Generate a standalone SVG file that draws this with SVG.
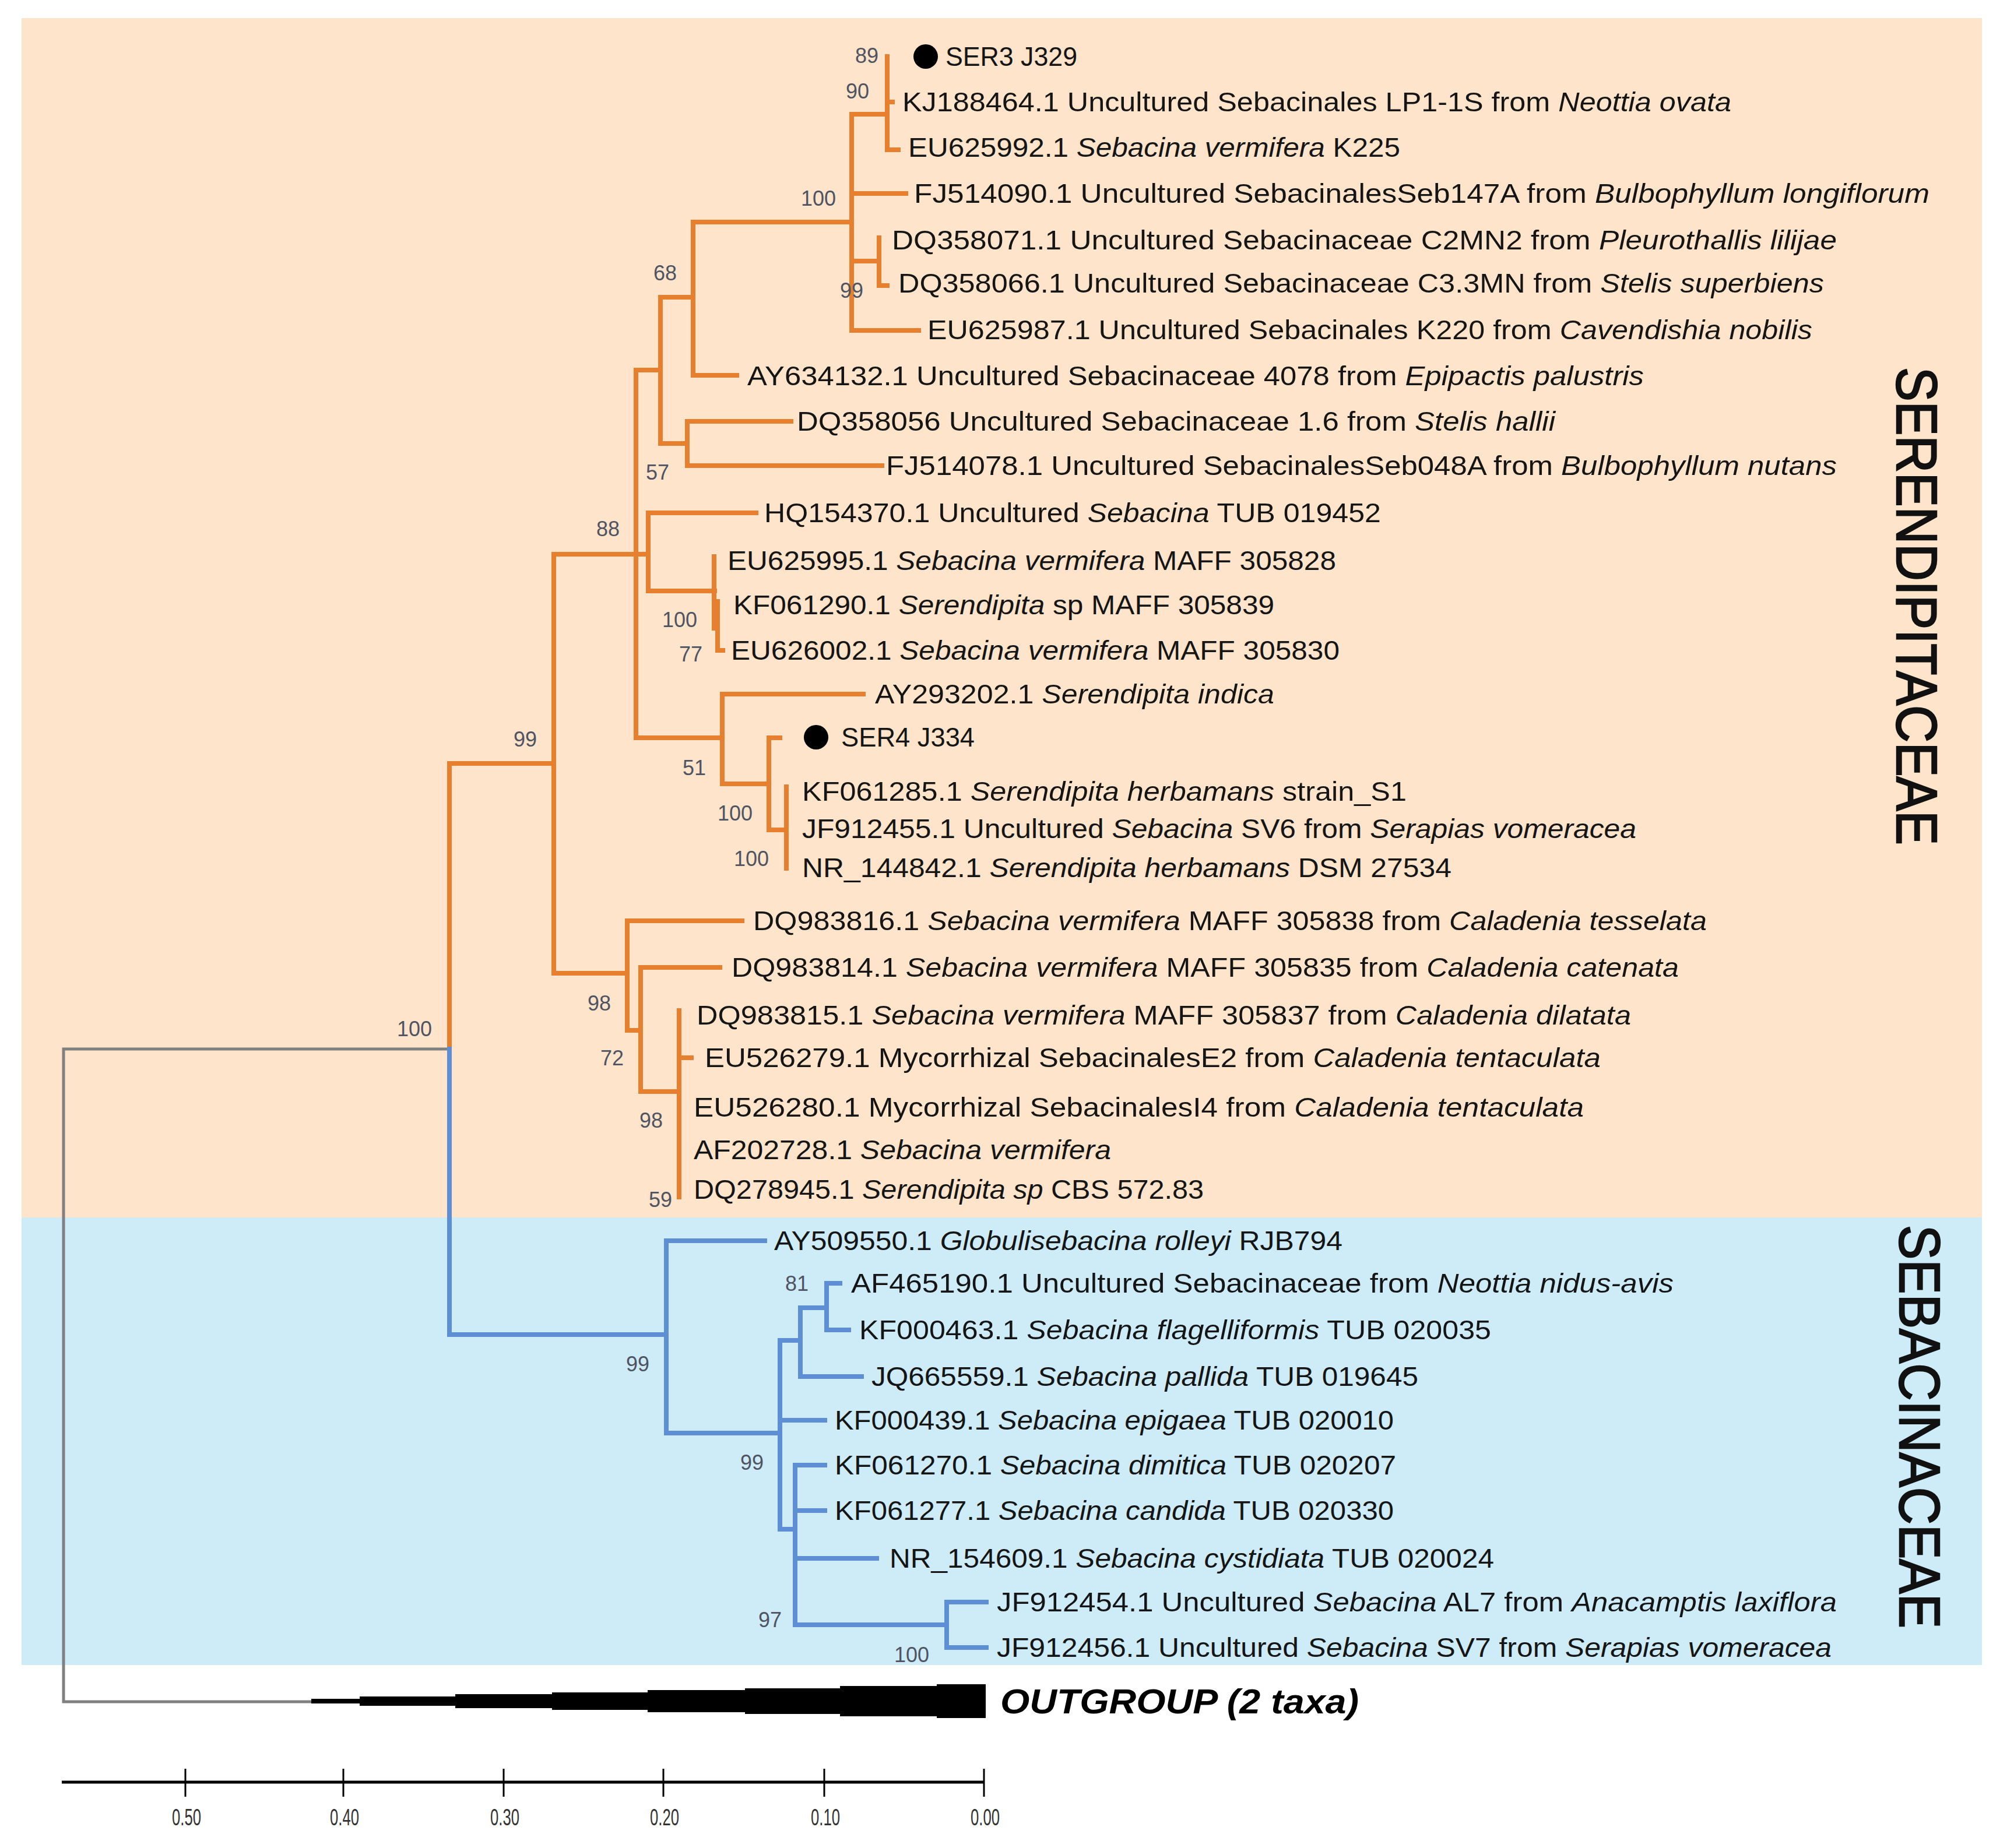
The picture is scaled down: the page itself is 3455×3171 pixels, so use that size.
<svg xmlns="http://www.w3.org/2000/svg" width="3455" height="3171" viewBox="0 0 3455 3171">
<style>
.lab{font-family:"Liberation Sans",Arial,sans-serif;font-size:46px;fill:#151515}
.bs{font-family:"Liberation Sans",Arial,sans-serif;font-size:36px;fill:#505462;text-anchor:middle}
.o{stroke:#E6802F;stroke-width:8;fill:none;stroke-linecap:square}
.b{stroke:#5E8FD5;stroke-width:8;fill:none;stroke-linecap:square}
.g{stroke:#808080;stroke-width:5;fill:none}
.fam{font-family:"Liberation Sans",Arial,sans-serif;font-size:98px;fill:#111;stroke:#111;stroke-width:2.5}
.tick{font-family:"Liberation Sans",Arial,sans-serif;font-size:40px;fill:#333;text-anchor:middle}
</style>
<rect width="3455" height="3171" fill="#ffffff"/>
<g id="backgrounds">
<rect x="37" y="31" width="3363" height="2058" fill="#FEE4CA"/>
<rect x="37" y="2089" width="3363" height="768" fill="#CDECF8"/>
</g>
<g id="connectors">
<path class="g" d="M771 1800 H109 V2920 H534"/>
<path class="o" d="M771 1800 V1310 H950 M950 951 V1670 M950 951 H1112 M950 1670 H1076
M1091 635 V1266 M1091 635 H1133 M1133 510 V761 M1133 510 H1189 M1133 761 H1179
M1189 381 V644 M1189 381 H1461 M1189 644 H1264
M1461 196 V567 M1461 196 H1522 M1461 332 H1554 M1461 448 H1508 M1461 567 H1576
M1522 97 V257 M1522 175 H1531 M1522 257 H1541
M1508 408 V490 H1522
M1179 723 V799 M1179 723 H1357 M1179 799 H1513
M1112 880 V1014 M1112 880 H1297 M1112 1014 H1226
M1225 955 V1078 M1231 1032 V1116 H1240
M1091 1266 H1239 M1239 1191 V1345 M1239 1191 H1481 M1239 1345 H1319
M1319 1266 V1424 M1319 1266 H1338 M1319 1424 H1349 M1349 1350 V1490
M1076 1580 V1768 M1076 1580 H1273 M1076 1768 H1099
M1099 1660 V1873 M1099 1660 H1235 M1099 1873 H1165
M1165 1734 V2054 M1165 1815 H1186"/>
<path class="b" d="M771 1800 V2290 H1143 M1143 2129 V2459 M1143 2129 H1312 M1143 2459 H1338
M1338 2300 V2624 M1338 2300 H1373 M1338 2437 H1415 M1338 2624 H1364
M1373 2244 V2362 M1373 2244 H1418 M1373 2362 H1478
M1418 2202 V2282 M1418 2202 H1441 M1418 2282 H1456
M1364 2514 V2788 M1364 2514 H1415 M1364 2592 H1415 M1364 2674 H1504 M1364 2788 H1624
M1624 2749 V2827 M1624 2749 H1692 M1624 2827 H1692"/>
</g>
<g id="bootstrap">
<text class="bs" x="1487" y="108">89</text>
<text class="bs" x="1471" y="169">90</text>
<text class="bs" x="1404" y="353">100</text>
<text class="bs" x="1461" y="511">99</text>
<text class="bs" x="1141" y="481">68</text>
<text class="bs" x="1128" y="823">57</text>
<text class="bs" x="1043" y="920">88</text>
<text class="bs" x="1166" y="1076">100</text>
<text class="bs" x="1185" y="1135">77</text>
<text class="bs" x="901" y="1281">99</text>
<text class="bs" x="1191" y="1330">51</text>
<text class="bs" x="1261" y="1408">100</text>
<text class="bs" x="1289" y="1486">100</text>
<text class="bs" x="711" y="1778">100</text>
<text class="bs" x="1028" y="1734">98</text>
<text class="bs" x="1050" y="1828">72</text>
<text class="bs" x="1117" y="1935">98</text>
<text class="bs" x="1133" y="2071">59</text>
<text class="bs" x="1094" y="2353">99</text>
<text class="bs" x="1367" y="2215">81</text>
<text class="bs" x="1290" y="2522">99</text>
<text class="bs" x="1321" y="2792">97</text>
<text class="bs" x="1564" y="2852">100</text>
</g>
<g id="leaf-SER3"><circle cx="1588" cy="97" r="21" fill="#000"/><text class="lab" x="1622" y="113" textLength="226" lengthAdjust="spacingAndGlyphs">SER3 J329</text></g>
<g id="leaf-KJ188464"><text class="lab" x="1548" y="191" textLength="1422" lengthAdjust="spacingAndGlyphs">KJ188464.1 Uncultured Sebacinales LP1-1S from <tspan font-style="italic">Neottia ovata</tspan></text></g>
<g id="leaf-EU625992"><text class="lab" x="1558" y="269" textLength="844" lengthAdjust="spacingAndGlyphs">EU625992.1 <tspan font-style="italic">Sebacina vermifera</tspan> K225</text></g>
<g id="leaf-FJ514090"><text class="lab" x="1568" y="348" textLength="1742" lengthAdjust="spacingAndGlyphs">FJ514090.1 Uncultured SebacinalesSeb147A from <tspan font-style="italic">Bulbophyllum longiflorum</tspan></text></g>
<g id="leaf-DQ358071"><text class="lab" x="1530" y="428" textLength="1621" lengthAdjust="spacingAndGlyphs">DQ358071.1 Uncultured Sebacinaceae C2MN2 from <tspan font-style="italic">Pleurothallis lilijae</tspan></text></g>
<g id="leaf-DQ358066"><text class="lab" x="1541" y="502" textLength="1588" lengthAdjust="spacingAndGlyphs">DQ358066.1 Uncultured Sebacinaceae C3.3MN from <tspan font-style="italic">Stelis superbiens</tspan></text></g>
<g id="leaf-EU625987"><text class="lab" x="1591" y="582" textLength="1518" lengthAdjust="spacingAndGlyphs">EU625987.1 Uncultured Sebacinales K220 from <tspan font-style="italic">Cavendishia nobilis</tspan></text></g>
<g id="leaf-AY634132"><text class="lab" x="1282" y="661" textLength="1538" lengthAdjust="spacingAndGlyphs">AY634132.1 Uncultured Sebacinaceae 4078 from <tspan font-style="italic">Epipactis palustris</tspan></text></g>
<g id="leaf-DQ358056"><text class="lab" x="1367" y="739" textLength="1301" lengthAdjust="spacingAndGlyphs">DQ358056 Uncultured Sebacinaceae 1.6 from <tspan font-style="italic">Stelis hallii</tspan></text></g>
<g id="leaf-FJ514078"><text class="lab" x="1520" y="815" textLength="1631" lengthAdjust="spacingAndGlyphs">FJ514078.1 Uncultured SebacinalesSeb048A from <tspan font-style="italic">Bulbophyllum nutans</tspan></text></g>
<g id="leaf-HQ154370"><text class="lab" x="1311" y="896" textLength="1058" lengthAdjust="spacingAndGlyphs">HQ154370.1 Uncultured <tspan font-style="italic">Sebacina</tspan> TUB 019452</text></g>
<g id="leaf-EU625995"><text class="lab" x="1248" y="978" textLength="1044" lengthAdjust="spacingAndGlyphs">EU625995.1 <tspan font-style="italic">Sebacina vermifera</tspan> MAFF 305828</text></g>
<g id="leaf-KF061290"><text class="lab" x="1258" y="1054" textLength="928" lengthAdjust="spacingAndGlyphs">KF061290.1 <tspan font-style="italic">Serendipita</tspan> sp MAFF 305839</text></g>
<g id="leaf-EU626002"><text class="lab" x="1254" y="1132" textLength="1044" lengthAdjust="spacingAndGlyphs">EU626002.1 <tspan font-style="italic">Sebacina vermifera</tspan> MAFF 305830</text></g>
<g id="leaf-AY293202"><text class="lab" x="1501" y="1207" textLength="685" lengthAdjust="spacingAndGlyphs">AY293202.1 <tspan font-style="italic">Serendipita indica</tspan></text></g>
<g id="leaf-SER4"><circle cx="1400" cy="1265" r="21" fill="#000"/><text class="lab" x="1443" y="1281" textLength="229" lengthAdjust="spacingAndGlyphs">SER4 J334</text></g>
<g id="leaf-KF061285"><text class="lab" x="1376" y="1374" textLength="1037" lengthAdjust="spacingAndGlyphs">KF061285.1 <tspan font-style="italic">Serendipita herbamans</tspan> strain_S1</text></g>
<g id="leaf-JF912455"><text class="lab" x="1376" y="1438" textLength="1431" lengthAdjust="spacingAndGlyphs">JF912455.1 Uncultured <tspan font-style="italic">Sebacina</tspan> SV6 from <tspan font-style="italic">Serapias vomeracea</tspan></text></g>
<g id="leaf-NR144842"><text class="lab" x="1376" y="1505" textLength="1114" lengthAdjust="spacingAndGlyphs">NR_144842.1 <tspan font-style="italic">Serendipita herbamans</tspan> DSM 27534</text></g>
<g id="leaf-DQ983816"><text class="lab" x="1292" y="1596" textLength="1636" lengthAdjust="spacingAndGlyphs">DQ983816.1 <tspan font-style="italic">Sebacina vermifera</tspan> MAFF 305838 from <tspan font-style="italic">Caladenia tesselata</tspan></text></g>
<g id="leaf-DQ983814"><text class="lab" x="1255" y="1676" textLength="1625" lengthAdjust="spacingAndGlyphs">DQ983814.1 <tspan font-style="italic">Sebacina vermifera</tspan> MAFF 305835 from <tspan font-style="italic">Caladenia catenata</tspan></text></g>
<g id="leaf-DQ983815"><text class="lab" x="1195" y="1758" textLength="1603" lengthAdjust="spacingAndGlyphs">DQ983815.1 <tspan font-style="italic">Sebacina vermifera</tspan> MAFF 305837 from <tspan font-style="italic">Caladenia dilatata</tspan></text></g>
<g id="leaf-EU526279"><text class="lab" x="1209" y="1831" textLength="1537" lengthAdjust="spacingAndGlyphs">EU526279.1 Mycorrhizal SebacinalesE2 from <tspan font-style="italic">Caladenia tentaculata</tspan></text></g>
<g id="leaf-EU526280"><text class="lab" x="1190" y="1916" textLength="1527" lengthAdjust="spacingAndGlyphs">EU526280.1 Mycorrhizal SebacinalesI4 from <tspan font-style="italic">Caladenia tentaculata</tspan></text></g>
<g id="leaf-AF202728"><text class="lab" x="1190" y="1989" textLength="716" lengthAdjust="spacingAndGlyphs">AF202728.1 <tspan font-style="italic">Sebacina vermifera</tspan></text></g>
<g id="leaf-DQ278945"><text class="lab" x="1190" y="2057" textLength="875" lengthAdjust="spacingAndGlyphs">DQ278945.1 <tspan font-style="italic">Serendipita sp</tspan> CBS 572.83</text></g>
<g id="leaf-AY509550"><text class="lab" x="1328" y="2145" textLength="975" lengthAdjust="spacingAndGlyphs">AY509550.1 <tspan font-style="italic">Globulisebacina rolleyi</tspan> RJB794</text></g>
<g id="leaf-AF465190"><text class="lab" x="1460" y="2218" textLength="1411" lengthAdjust="spacingAndGlyphs">AF465190.1 Uncultured Sebacinaceae from <tspan font-style="italic">Neottia nidus-avis</tspan></text></g>
<g id="leaf-KF000463"><text class="lab" x="1474" y="2298" textLength="1084" lengthAdjust="spacingAndGlyphs">KF000463.1 <tspan font-style="italic">Sebacina flagelliformis</tspan> TUB 020035</text></g>
<g id="leaf-JQ665559"><text class="lab" x="1495" y="2378" textLength="938" lengthAdjust="spacingAndGlyphs">JQ665559.1 <tspan font-style="italic">Sebacina pallida</tspan> TUB 019645</text></g>
<g id="leaf-KF000439"><text class="lab" x="1432" y="2453" textLength="959" lengthAdjust="spacingAndGlyphs">KF000439.1 <tspan font-style="italic">Sebacina epigaea</tspan> TUB 020010</text></g>
<g id="leaf-KF061270"><text class="lab" x="1432" y="2530" textLength="963" lengthAdjust="spacingAndGlyphs">KF061270.1 <tspan font-style="italic">Sebacina dimitica</tspan> TUB 020207</text></g>
<g id="leaf-KF061277"><text class="lab" x="1432" y="2608" textLength="959" lengthAdjust="spacingAndGlyphs">KF061277.1 <tspan font-style="italic">Sebacina candida</tspan> TUB 020330</text></g>
<g id="leaf-NR154609"><text class="lab" x="1526" y="2690" textLength="1037" lengthAdjust="spacingAndGlyphs">NR_154609.1 <tspan font-style="italic">Sebacina cystidiata</tspan> TUB 020024</text></g>
<g id="leaf-JF912454"><text class="lab" x="1710" y="2765" textLength="1441" lengthAdjust="spacingAndGlyphs">JF912454.1 Uncultured <tspan font-style="italic">Sebacina</tspan> AL7 from <tspan font-style="italic">Anacamptis laxiflora</tspan></text></g>
<g id="leaf-JF912456"><text class="lab" x="1710" y="2843" textLength="1432" lengthAdjust="spacingAndGlyphs">JF912456.1 Uncultured <tspan font-style="italic">Sebacina</tspan> SV7 from <tspan font-style="italic">Serapias vomeracea</tspan></text></g>
<g id="outgroup">
<polygon fill="#000" points="534,2915 617,2915 617,2911 781,2911 781,2907 947,2907 947,2904 1111,2904 1111,2900 1278,2900 1278,2897 1441,2897 1441,2893 1607,2893 1607,2890 1691,2890 1691,2948 1607,2948 1607,2945 1441,2945 1441,2941 1278,2941 1278,2938 1111,2938 1111,2934 947,2934 947,2931 781,2931 781,2927 617,2927 617,2923 534,2923"/>
<text x="1716" y="2940" font-family="Liberation Sans, Arial, sans-serif" font-size="60" font-weight="bold" font-style="italic" fill="#000" textLength="615" lengthAdjust="spacingAndGlyphs">OUTGROUP (2 taxa)</text>
</g>
<g id="family-labels">
<text class="fam" transform="translate(3254,630) rotate(90)" textLength="820" lengthAdjust="spacingAndGlyphs">SERENDIPITACEAE</text>
<text class="fam" transform="translate(3259,2102) rotate(90)" textLength="692" lengthAdjust="spacingAndGlyphs">SEBACINACEAE</text>
</g>
<g id="scale-bar">
<path d="M106 3058 H1688" stroke="#000" stroke-width="5" fill="none"/>
<path d="M318 3035 V3083 M589 3035 V3083 M864 3035 V3083 M1138 3035 V3083 M1414 3035 V3083 M1688 3035 V3083" stroke="#000" stroke-width="3" fill="none"/>
<text class="tick" x="320" y="3132" textLength="50" lengthAdjust="spacingAndGlyphs">0.50</text>
<text class="tick" x="591" y="3132" textLength="50" lengthAdjust="spacingAndGlyphs">0.40</text>
<text class="tick" x="866" y="3132" textLength="50" lengthAdjust="spacingAndGlyphs">0.30</text>
<text class="tick" x="1140" y="3132" textLength="50" lengthAdjust="spacingAndGlyphs">0.20</text>
<text class="tick" x="1416" y="3132" textLength="50" lengthAdjust="spacingAndGlyphs">0.10</text>
<text class="tick" x="1690" y="3132" textLength="50" lengthAdjust="spacingAndGlyphs">0.00</text>
</g>
</svg>
